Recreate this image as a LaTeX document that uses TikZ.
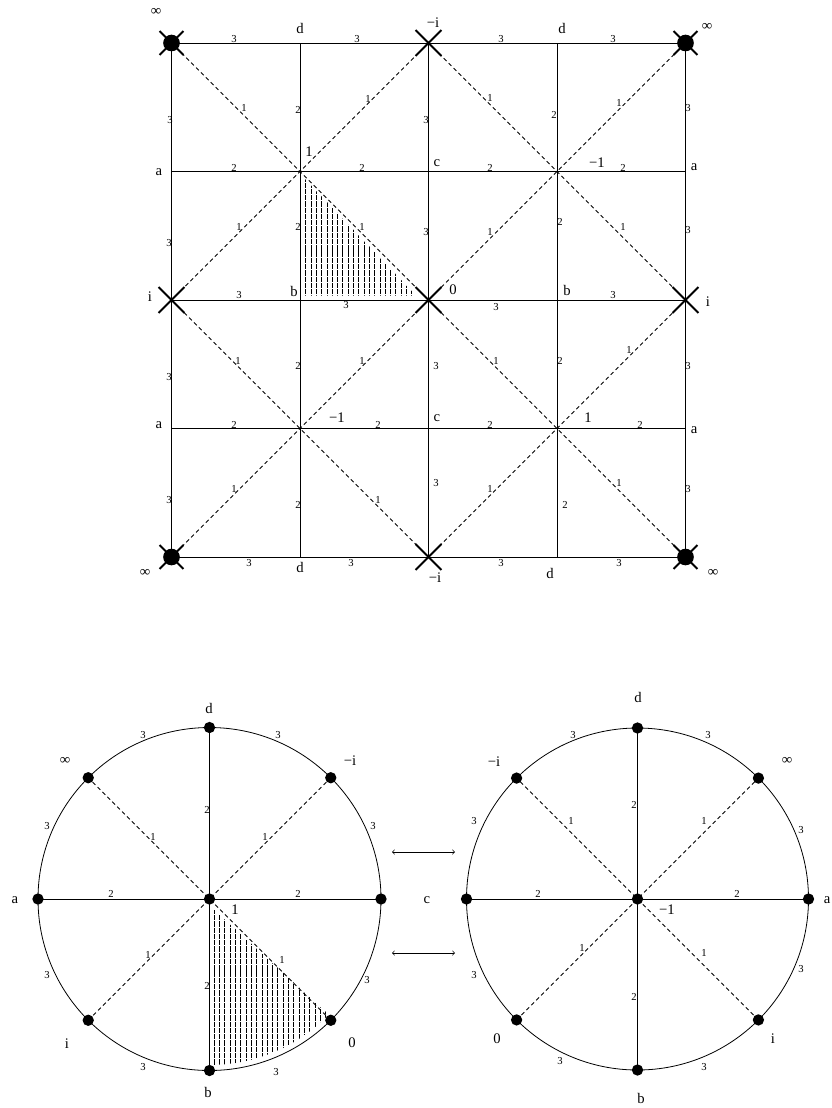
\documentclass[tikz,border=0pt]{standalone}
\usepackage{fontspec}
\setmainfont{Liberation Serif}
\usetikzlibrary{shapes.misc}
\begin{document}
\begin{tikzpicture}[x=0.75pt,y=-0.75pt,
  ln/.style={line width=0.6pt},
  dl/.style={line width=0.55pt, dash pattern=on 3pt off 2.2pt},
  lab/.style={font=\fontsize{11}{12}\selectfont, inner sep=0pt},
  wt/.style={font=\fontsize{8}{9}\selectfont, inner sep=0pt},
  xm/.style={draw, cross out, line width=1.4pt, minimum size=18pt, inner sep=0pt},
  xs/.style={draw, cross out, line width=1.4pt, minimum size=16.5pt, inner sep=0pt},
  bigdot/.style={circle, fill, inner sep=0pt, minimum size=12.5pt},
  dot/.style={circle, fill, inner sep=0pt, minimum size=8.5pt},
  hatch/.style={line width=0.6pt, dash pattern=on 4pt off 0.7pt}]
\path[use as bounding box] (0,0) rectangle (832,1108);

% ---------- square ----------
\foreach \i/\x in {0/171.5,1/300,2/428.5,3/557,4/685.5}
  \foreach \j/\y in {0/43,1/171.5,2/300,3/428.5,4/557}
    \coordinate (g\i\j) at (\x,\y);

\begin{scope}
  \clip (305,179) -- (305,295.5) -- (416,295.5) -- cycle;
  \foreach \k in {0,...,21} \draw[hatch] (305.7+\k*5.3,170) -- (305.7+\k*5.3,300);
\end{scope}

\foreach \j in {0,...,4} \draw[ln] (g0\j) -- (g4\j);
\foreach \i in {0,...,4} \draw[ln] (g\i0) -- (g\i4);
\draw[dl] (g00) -- (g44);
\draw[dl] (g04) -- (g40);
\draw[dl] (g20) -- (g02) -- (g24) -- (g42) -- cycle;

\foreach \p in {00,40,04,44} {
  \node[bigdot] (inf\p) at (g\p) {};
  \node[xs] (infx\p) at (g\p) {};
}
\foreach \p in {20,02,22,42,24}
  \node[xm] (x\p) at (g\p) {};

% big labels of the square
\node[lab] (s1) at (156,12) {∞};
\node[lab] (s2) at (707,27) {∞};
\node[lab] (s3) at (145,573) {∞};
\node[lab] (s4) at (713,573) {∞};
\node[lab] (s5) at (433,23) {−i};
\node[lab] (s6) at (435,578) {−i};
\node[lab] (s7) at (300,28) {d};
\node[lab] (s8) at (562,28) {d};
\node[lab] (s9) at (300,567) {d};
\node[lab] (s10) at (550,573) {d};
\node[lab] (s11) at (159,172) {a};
\node[lab] (s12) at (159,425) {a};
\node[lab] (s13) at (694,167) {a};
\node[lab] (s14) at (694,430) {a};
\node[lab] (s15) at (309,152) {1};
\node[lab] (s16) at (437,163) {c};
\node[lab] (s17) at (437,418) {c};
\node[lab] (s18) at (597,163) {−1};
\node[lab] (s19) at (337,418) {−1};
\node[lab] (s20) at (588,418) {1};
\node[lab] (s21) at (150,297) {i};
\node[lab] (s22) at (708,302) {i};
\node[lab] (s23) at (294,291) {b};
\node[lab] (s24) at (567,290) {b};
\node[lab] (s25) at (453,290) {0};

% weights of the square
\foreach \n/\x/\y/\t in {
  w1/234/39/3, w2/357/39/3, w3/501/39/3, w4/613/39/3,
  w5/244/108/1, w6/298/110/2, w7/368/99/1, w8/170/120/3, w9/426/120/3,
  w10/490/98/1, w11/554/115/2, w12/619/103/1, w13/688/108/3,
  w14/234/168/2, w15/362/168/2, w16/490/168/2, w17/623/168/2,
  w18/239/227/1, w19/298/227/2, w20/362/227/1, w21/169/243/3, w22/426/232/3,
  w23/490/232/1, w24/560/222/2, w25/623/227/1, w26/688/230/3,
  w27/239/295/3, w28/346/305/3, w29/496/307/3, w30/613/295/3,
  w31/238/361/1, w32/298/366/2, w33/362/361/1, w34/169/377/3, w35/436/366/3,
  w36/496/361/1, w37/560/361/2, w38/629/350/1, w39/688/366/3,
  w40/234/425/2, w41/378/425/2, w42/490/425/2, w43/640/425/2,
  w44/234/489/1, w45/298/505/2, w46/378/500/1, w47/169/500/3, w48/436/483/3,
  w49/490/489/1, w50/565/505/2, w51/619/483/1, w52/688/489/3,
  w53/249/563/3, w54/351/563/3, w55/501/563/3, w56/619/563/3}
  \node[wt] (\n) at (\x,\y) {\t};

% ---------- left circle ----------
\coordinate (L) at (209.5,899);
\foreach \k in {0,...,7}
  \coordinate (L\k) at ([shift={(\k*45:171.5)}]L);

\begin{scope}
  \clip (L) circle (166);
  \clip (213.5,909) -- (327,1013) -- (327,1080) -- (213.5,1080) -- cycle;
  \foreach \k in {0,...,21} \draw[hatch] (214.2+\k*5.3,890) -- (214.2+\k*5.3,1075);
\end{scope}

\draw[ln] (L) circle (171.5);
\draw[ln] (L4) -- (L0);
\draw[ln] (L2) -- (L6);
\draw[dl] (L3) -- (L7);
\draw[dl] (L1) -- (L5);
\node[dot] (Lc) at (L) {};
\foreach \k in {0,...,7} \node[dot] (Ld\k) at (L\k) {};

\node[lab] (l1) at (209,708) {d};
\node[lab] (l2) at (65,761) {∞};
\node[lab] (l3) at (350,761) {−i};
\node[lab] (l4) at (15,900) {a};
\node[lab] (l5) at (67,1044) {i};
\node[lab] (l6) at (352,1043) {0};
\node[lab] (l7) at (208,1092) {b};
\node[lab] (l8) at (235,910) {1};

\foreach \n/\x/\y/\t in {
  lw1/143/735/3, lw2/278/735/3, lw3/207/810/2, lw4/47/826/3, lw5/153/837/1,
  lw6/265/837/1, lw7/373/826/3, lw8/111/894/2, lw9/298/894/2, lw10/148/955/1,
  lw11/282/960/1, lw12/47/975/3, lw13/207/986/2, lw14/367/980/3,
  lw15/143/1067/3, lw16/276/1072/3}
  \node[wt] (\n) at (\x,\y) {\t};

% ---------- right circle ----------
\coordinate (R) at (637.5,899);
\foreach \k in {0,...,7}
  \coordinate (R\k) at ([shift={(\k*45:171)}]R);

\draw[ln] (R) circle (171);
\draw[ln] (R4) -- (R0);
\draw[ln] (R2) -- (R6);
\draw[dl] (R3) -- (R7);
\draw[dl] (R1) -- (R5);
\node[dot] (Rc) at (R) {};
\foreach \k in {0,...,7} \node[dot] (Rd\k) at (R\k) {};

\node[lab] (r1) at (638,697) {d};
\node[lab] (r2) at (494,762) {−i};
\node[lab] (r3) at (787,761) {∞};
\node[lab] (r4) at (427,900) {c};
\node[lab] (r5) at (827,900) {a};
\node[lab] (r6) at (667,910) {−1};
\node[lab] (r7) at (497,1039) {0};
\node[lab] (r8) at (773,1039) {i};
\node[lab] (r9) at (641,1098) {b};

\foreach \n/\x/\y/\t in {
  rw1/573/735/3, rw2/708/735/3, rw3/634/805/2, rw4/474/821/3, rw5/571/821/1,
  rw6/704/821/1, rw7/801/830/3, rw8/538/894/2, rw9/737/894/2, rw10/582/948/1,
  rw11/704/953/1, rw12/474/975/3, rw13/801/969/3, rw14/634/997/2,
  rw15/560/1061/3, rw16/704/1067/3}
  \node[wt] (\n) at (\x,\y) {\t};

% ---------- arrows ----------
\coordinate (a1l) at (392,852);
\coordinate (a1r) at (455,852);
\coordinate (a2l) at (392,953);
\coordinate (a2r) at (455,953);
\draw[<->, line width=0.5pt] (a1l) -- (a1r);
\draw[<->, line width=0.5pt] (a2l) -- (a2r);
\end{tikzpicture}
\end{document}
